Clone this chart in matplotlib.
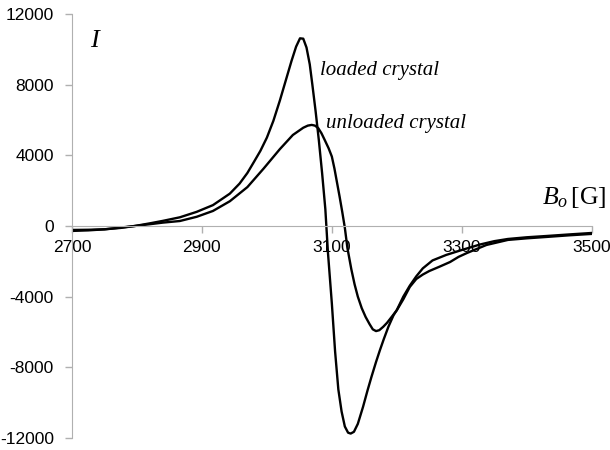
import matplotlib
matplotlib.use("Agg")
import matplotlib.pyplot as plt

# Loaded crystal
loaded_B = [2700, 2725, 2750, 2775, 2797, 2820, 2840, 2866, 2892, 2917, 2943, 2958,
            2970, 2980, 2990, 3000, 3010, 3020, 3030, 3038, 3045, 3051, 3056,
            3061, 3066, 3070, 3075, 3080, 3085, 3090, 3094, 3100, 3105, 3110, 3115,
            3120, 3125, 3129, 3134, 3140, 3148, 3155, 3161, 3168, 3174, 3180, 3187,
            3195, 3200, 3210, 3220, 3230, 3240, 3255, 3276, 3300, 3328, 3350, 3371,
            3400, 3431, 3465, 3500]
loaded_I = [-226, -215, -190, -110, 0, 150, 290, 490, 800, 1180, 1830, 2400,
            3000, 3620, 4250, 5000, 5950, 7100, 8350, 9350, 10150, 10620, 10600,
            10100, 9150, 8000, 6500, 4850, 3000, 950, -1500, -4380, -7100, -9250, -10500,
            -11350, -11700, -11750, -11650, -11200, -10240, -9300, -8540, -7700, -7030, -6400, -5710,
            -5050, -4760, -4000, -3380, -2850, -2400, -1950, -1640, -1360, -1050, -860, -736,
            -640, -566, -480, -396]

# Unloaded crystal
unloaded_B = [2700, 2725, 2750, 2775, 2797, 2820, 2840, 2866, 2892, 2917, 2943, 2970,
              2995, 3020, 3040, 3056, 3063, 3069, 3074, 3079, 3084,
              3089, 3095, 3100, 3104, 3108, 3112, 3116, 3120, 3124, 3130, 3135, 3140,
              3146, 3152, 3158, 3163, 3168, 3173, 3179, 3185, 3192, 3200, 3210, 3220,
              3230, 3240, 3250, 3266, 3282, 3295, 3308, 3338, 3371, 3400, 3431, 3465, 3500]
unloaded_I = [-280, -250, -190, -90, 0, 100, 190, 280, 520, 850, 1400, 2200,
              3250, 4350, 5150, 5560, 5680, 5720, 5680, 5540, 5250,
              4870, 4400, 3930, 3250, 2450, 1650, 800, -100, -1250, -2450, -3300, -4000,
              -4650, -5150, -5550, -5850, -5950, -5900, -5710, -5480, -5150, -4770, -4150, -3450,
              -3000, -2750, -2550, -2300, -2040, -1750, -1530, -1075, -790, -700, -620, -530, -450]

x_ticks = [2700, 2900, 3100, 3300, 3500]
y_ticks = [-12000, -8000, -4000, 0, 4000, 8000, 12000]

plt.rcParams['mathtext.fontset'] = 'custom'
plt.rcParams['mathtext.rm'] = 'Liberation Serif'
plt.rcParams['mathtext.it'] = 'Liberation Serif:italic'
plt.rcParams['axes.unicode_minus'] = False

fig = plt.figure(figsize=(6.1, 4.5), dpi=100)
ax = fig.add_axes([0.118, 0.0267, 0.852, 0.9423])

ax.plot(loaded_B, loaded_I, color='black', lw=1.7, solid_joinstyle='round')
ax.plot(unloaded_B, unloaded_I, color='black', lw=1.7, solid_joinstyle='round')

ax.set_xlim(2700, 3500)
ax.set_ylim(-12000, 12000)
ax.set_xticks(x_ticks)
ax.set_yticks(y_ticks)

gray = '#b0b0b0'
for s in ['top', 'right']:
    ax.spines[s].set_visible(False)
ax.spines['bottom'].set_position(('data', 0))
ax.spines['bottom'].set_color(gray)
ax.spines['left'].set_color(gray)
ax.tick_params(axis='both', colors=gray, length=5, width=1, labelcolor='black',
               labelsize=12.5)
ax.tick_params(axis='x', direction='out', pad=5)
ax.tick_params(axis='y', direction='out', pad=8)
for lbl in ax.get_xticklabels() + ax.get_yticklabels():
    lbl.set_fontfamily('Liberation Sans')

ax.text(2735, 10450, 'I', fontsize=19, style='italic', family='Liberation Serif',
        ha='center', va='center')
ax.text(3082, 8800, 'loaded crystal', fontsize=15, style='italic',
        family='Liberation Serif', ha='left', va='center')
ax.text(3091, 5800, 'unloaded crystal', fontsize=15, style='italic',
        family='Liberation Serif', ha='left', va='center')
ax.text(3523, 1650, r'$B_o\,\mathrm{[G]}$', fontsize=18.5, ha='right', va='center',
        clip_on=False)

fig.savefig('out.png', dpi=100)
